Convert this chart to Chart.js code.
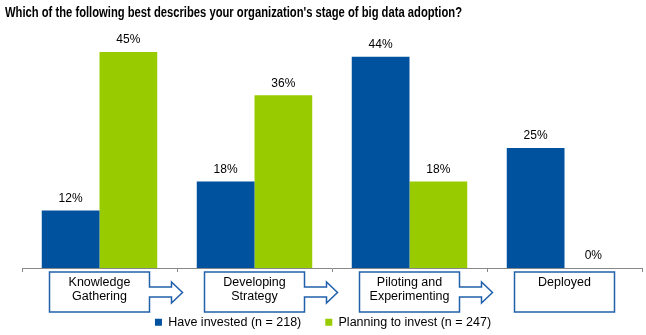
<!DOCTYPE html>
<html>
<head>
<meta charset="utf-8">
<script src="https://cdn.jsdelivr.net/npm/chart.js@4.4.0/dist/chart.umd.min.js"></script>
<style>
  html, body { margin: 0; padding: 0; background: #fff; }
  #wrap { width: 646px; height: 335px; position: relative; }
</style>
</head>
<body>
<div id="wrap"><canvas id="adoptionChart"></canvas></div>
<script>
const stages = [["Knowledge", "Gathering"], ["Developing", "Strategy"], ["Piloting and", "Experimenting"], ["Deployed"]];
const haveInvested = [12, 18, 44, 25];
const planningToInvest = [45, 36, 18, 0];
const seriesNames = ["Have invested (n = 218)", "Planning to invest (n = 247)"];
const chartTitle = "Which of the following best describes your organization's stage of big data adoption?";

const BLUE = "#00519E";
const GREEN = "#99CC00";
const FONT = "'Liberation Sans', Arial, sans-serif";

// narrow bold title (the original uses a condensed face)
const narrowTitle = {
  id: "narrowTitle",
  afterDraw(chart) {
    const ctx = chart.ctx;
    ctx.save();
    ctx.font = "bold 14px " + FONT;
    ctx.fillStyle = "#000";
    ctx.textBaseline = "middle";
    const w = ctx.measureText(chartTitle).width;
    ctx.translate(5, 13);
    ctx.scale(457 / w, 1);
    ctx.fillText(chartTitle, 0, 0);
    ctx.restore();
  }
};

// value labels above each bar
const barLabels = {
  id: "barLabels",
  afterDatasetsDraw(chart) {
    const ctx = chart.ctx;
    ctx.save();
    ctx.font = "12px " + FONT;
    ctx.fillStyle = "#000";
    ctx.textAlign = "center";
    ctx.textBaseline = "bottom";
    chart.data.datasets.forEach((ds, i) => {
      chart.getDatasetMeta(i).data.forEach((bar, j) => {
        ctx.fillText(ds.data[j] + "%", bar.x, bar.y - 6);
      });
    });
    ctx.restore();
  }
};

// stage boxes with arrows under the axis
const stageBoxes = {
  id: "stageBoxes",
  afterDraw(chart) {
    const ctx = chart.ctx;
    const x = chart.scales.x;
    const top = chart.chartArea.bottom + 4;
    const bottom = top + 40;
    ctx.save();
    ctx.lineWidth = 1.5;
    ctx.strokeStyle = "#2160AA";
    stages.forEach((lines, i) => {
      const cx = x.getPixelForValue(i);
      const L = cx - 50, R = cx + 50;
      ctx.beginPath();
      ctx.moveTo(L, top);
      ctx.lineTo(R, top);
      if (i < stages.length - 1) {
        ctx.lineTo(R, top + 15);
        ctx.lineTo(cx + 72, top + 15);
        ctx.lineTo(cx + 72, top + 10);
        ctx.lineTo(cx + 83, top + 20.5);
        ctx.lineTo(cx + 72, top + 31);
        ctx.lineTo(cx + 72, top + 25);
        ctx.lineTo(R, top + 25);
      }
      ctx.lineTo(R, bottom);
      ctx.lineTo(L, bottom);
      ctx.closePath();
      ctx.fillStyle = "#fff";
      ctx.fill();
      ctx.stroke();
      ctx.fillStyle = "#000";
      ctx.font = "12.5px " + FONT;
      ctx.textAlign = "center";
      ctx.textBaseline = "middle";
      lines.forEach((t, k) => ctx.fillText(t, cx, top + 11 + k * 14));
    });
    ctx.restore();
  }
};

new Chart(document.getElementById("adoptionChart"), {
  type: "bar",
  data: {
    labels: stages.map(s => s.join(" ")),
    datasets: [
      { label: seriesNames[0], data: haveInvested, backgroundColor: BLUE },
      { label: seriesNames[1], data: planningToInvest, backgroundColor: GREEN }
    ]
  },
  options: {
    responsive: true,
    maintainAspectRatio: false,
    animation: false,
    devicePixelRatio: 1,
    layout: { padding: { left: 4, right: 4, top: 28, bottom: 0 } },
    datasets: { bar: { categoryPercentage: 0.745, barPercentage: 1.0 } },
    plugins: {
      title: { display: false },
      legend: {
        position: "bottom",
        padding: 0,
        maxHeight: 43,
        labels: {
          color: "#000",
          font: { family: FONT, size: 12.5 },
          boxWidth: 7,
          boxHeight: 7,
          padding: 24
        }
      },
      tooltip: { enabled: false }
    },
    scales: {
      x: {
        grid: { display: true, drawOnChartArea: false, offset: true, tickLength: 4, color: "#888" },
        border: { color: "#888" },
        ticks: { display: false },
        afterFit(scale) { scale.height = 24; }
      },
      y: {
        min: 0,
        max: 50,
        grid: { display: false },
        border: { display: false },
        ticks: { display: false },
        afterFit(scale) { scale.width = 18; }
      }
    }
  },
  plugins: [narrowTitle, barLabels, stageBoxes]
});
</script>
</body>
</html>
